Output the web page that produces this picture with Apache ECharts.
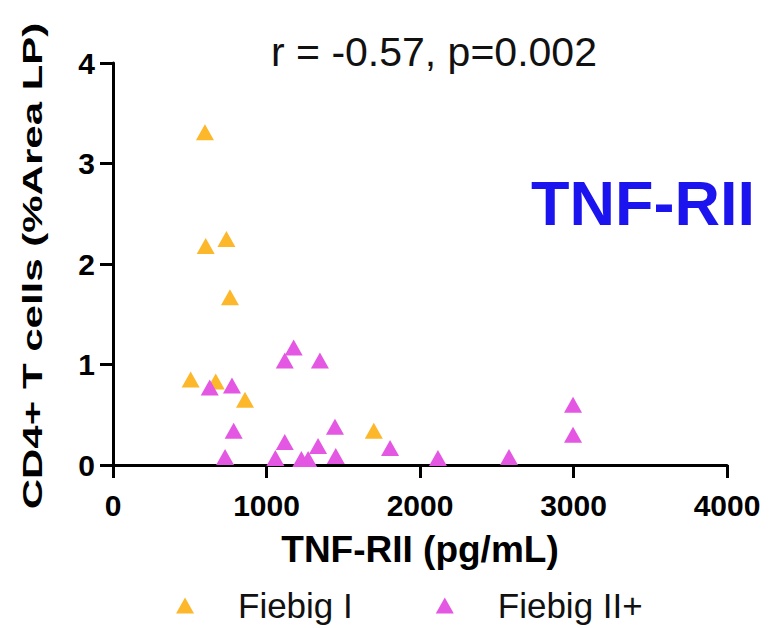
<!DOCTYPE html>
<html>
<head>
<meta charset="utf-8">
<script src="https://cdn.jsdelivr.net/npm/echarts@6/dist/echarts.min.js"></script>
<style>html,body{margin:0;padding:0;background:#fff}#c{width:777px;height:628px}</style>
</head>
<body>
<div id="c"></div>
<script>
// Data
var seriesNames = ['Fiebig I', 'Fiebig II+'];
var fiebigI_x = [599, 604, 739, 762, 506, 669, 860, 1699];
var fiebigI_y = [3.31, 2.18, 2.25, 1.67, 0.85, 0.83, 0.65, 0.34];
var fiebigII_x = [630, 775, 786, 730, 1119, 1177, 1119, 1058, 1348, 1446, 1336, 1451, 1227, 1271, 1805, 2117, 2580, 2997, 2997];
var fiebigII_y = [0.77, 0.79, 0.34, 0.08, 1.04, 1.17, 0.23, 0.07, 1.04, 0.38, 0.19, 0.09, 0.06, 0.06, 0.17, 0.07, 0.08, 0.60, 0.30];
var xTicks = [0, 1000, 2000, 3000, 4000];
var yTicks = [0, 1, 2, 3, 4];
var statText = 'r = -0.57, p=0.002';
var panelText = 'TNF-RII';
var xName = 'TNF-RII (pg/mL)';
var yName = 'CD4+ T cells (%Area LP)';

function pairs(xs, ys) { return xs.map(function (x, i) { return [x, ys[i]]; }); }

var FONT = '"Liberation Sans", Arial, sans-serif';
var chart = echarts.init(document.getElementById('c'), null, { renderer: 'svg' });
chart.setOption({
  backgroundColor: '#ffffff',
  animation: false,
  title: [
    { text: statText, left: 266, top: 26, textStyle: { fontFamily: FONT, fontSize: 41, fontWeight: 'normal', color: '#111' } },
    { text: panelText, left: 526, top: 166, textStyle: { fontFamily: FONT, fontSize: 63, fontWeight: 'bold', color: '#1c14ee' } }
  ],
  grid: { left: 113, top: 63, width: 614, height: 402 },
  xAxis: {
    type: 'value', min: xTicks[0], max: xTicks[xTicks.length - 1], interval: 1000,
    name: xName, nameLocation: 'middle', nameGap: 66,
    nameTextStyle: { fontFamily: FONT, fontSize: 37, fontWeight: 'bold', color: '#000' },
    axisLine: { show: true, onZero: false, lineStyle: { color: '#000', width: 3 } },
    axisTick: { show: true, inside: false, length: 13, lineStyle: { color: '#000', width: 3 } },
    axisLabel: { margin: 25, fontFamily: FONT, fontSize: 30, fontWeight: 'bold', color: '#000', formatter: function (v) { return String(v); } },
    splitLine: { show: false }
  },
  yAxis: {
    type: 'value', min: yTicks[0], max: yTicks[yTicks.length - 1], interval: 1,
    axisLine: { show: true, onZero: false, lineStyle: { color: '#000', width: 3 } },
    axisTick: { show: true, inside: false, length: 13, lineStyle: { color: '#000', width: 3 } },
    axisLabel: { margin: 18, fontFamily: FONT, fontSize: 30, fontWeight: 'bold', color: '#000', formatter: function (v) { return String(v); } },
    splitLine: { show: false }
  },
  legend: {
    data: seriesNames, left: 171, top: 583, orient: 'horizontal',
    itemWidth: 18, itemHeight: 16, itemGap: 83,
    textStyle: { fontFamily: FONT, fontSize: 35, color: '#111', padding: [0, 0, 0, 39] }
  },
  graphic: [
    {
      type: 'text', x: 33, y: 266, rotation: Math.PI / 2, scaleX: 1.5,
      style: { text: yName, font: 'bold 28px ' + FONT, fill: '#000', align: 'center', verticalAlign: 'middle' }
    }
  ],
  series: [
    {
      name: seriesNames[0], type: 'scatter', symbol: 'triangle', symbolSize: [18, 16],
      itemStyle: { color: '#fcb82a', opacity: 1 }, data: pairs(fiebigI_x, fiebigI_y)
    },
    {
      name: seriesNames[1], type: 'scatter', symbol: 'triangle', symbolSize: [18, 16],
      itemStyle: { color: '#e457e2', opacity: 1 }, data: pairs(fiebigII_x, fiebigII_y)
    }
  ]
});
// make sure every element is painted in one pass
try { chart.getZr().painter.refresh(true); } catch (e) {}
</script>
</body>
</html>
